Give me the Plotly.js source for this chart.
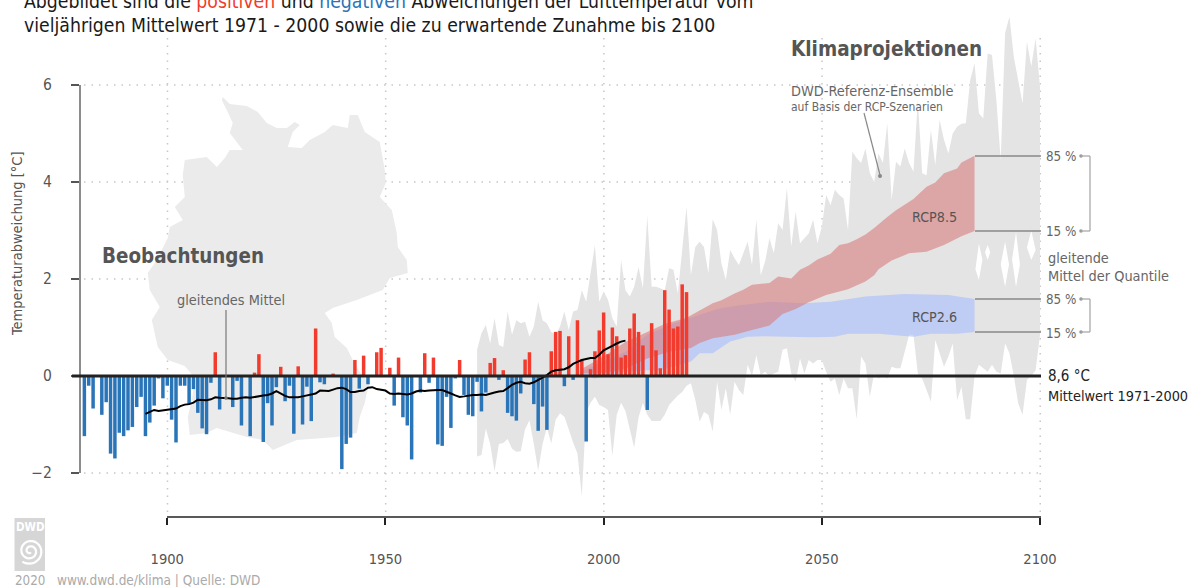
<!DOCTYPE html>
<html><head><meta charset="utf-8">
<script src="https://cdn.plot.ly/plotly-3.0.1.min.js"></script>
<style>html,body{margin:0;padding:0;background:#fff}</style>
</head><body><div id="chart" style="width:1196px;height:587px"></div>
<script>
// Observed anomalies 1881-2019 (°C vs. 1971-2000)
const barStartYear = 1881;
const anomalies = [
-1.24,-.2,-.67,0,-.8,-.54,-1.6,-1.7,-1.17,-1.24,-1.12,-1.05,-.64,-.43,-1.24,-.96,-.61,-.05,-.46,-.2,
-.9,-1.37,-.2,-.2,-.58,-.27,-.76,-1.08,-1.2,-.14,.49,-.69,-.01,0,-.64,-.1,-1.02,0,-1.24,.07,
.45,-1.36,-.56,-1.02,-.23,.19,-.52,-.2,-1.19,.2,-1.0,-.22,-.93,.98,-.13,-.17,0,.05,0,-1.92,
-1.4,-1.27,.33,-.26,.42,-.17,0,.49,.58,0,.17,-.61,.38,-.85,-1.02,-1.72,0,-.34,.47,-.14,
.38,-1.41,-1.44,-.43,-1.07,-.05,.33,-.39,-.8,-.83,-.12,-.73,-.34,.27,.37,-.08,.12,-.76,-.83,-.92,
-.36,.34,.49,-.58,-1.13,-.63,-1.11,.51,.91,.93,-.21,.82,-.08,1.15,.34,-1.35,.14,.51,.94,1.31,
.45,1.0,.82,.38,.43,.98,1.29,.91,.63,-.7,1.09,.53,.16,1.77,1.37,.98,1.02,1.89,1.73];

// Moving mean 1895-2005
const meanStartYear = 1895;
const movingMean = [
-.78,-.74,-.70,-.72,-.71,-.69,-.68,-.67,-.62,-.59,-.58,-.55,-.49,-.5,-.5,-.48,-.44,-.45,-.45,-.46,
-.47,-.47,-.45,-.44,-.45,-.43,-.41,-.4,-.39,-.36,-.31,-.36,-.41,-.44,-.44,-.44,-.42,-.4,-.38,-.36,
-.3,-.3,-.31,-.28,-.25,-.24,-.27,-.33,-.33,-.31,-.3,-.24,-.23,-.27,-.28,-.3,-.36,-.37,-.36,-.37,
-.38,-.36,-.32,-.3,-.31,-.3,-.29,-.29,-.29,-.32,-.36,-.4,-.43,-.42,-.4,-.39,-.39,-.38,-.39,-.36,
-.34,-.32,-.31,-.25,-.18,-.14,-.12,-.15,-.16,-.13,-.08,-.02,.02,.09,.12,.13,.14,.18,.25,.29,
.33,.35,.37,.37,.44,.53,.57,.62,.67,.71,.73];

// Ensemble envelope 1971-2100
const ensembleStartYear = 1971;
const ensembleUpper = [
.54,.88,1.05,.67,1.19,.64,.6,1.33,.85,1.15,1.09,1.12,.81,1.02,1.53,1.15,1.09,.91,.85,1.02,
1.33,.95,1.33,1.36,1.77,1.53,2.12,2.7,1.53,1.74,1.57,1.19,1.02,2.39,1.77,1.64,1.84,2.25,1.81,3.3,
1.84,1.84,1.81,1.77,2.22,2.19,1.7,2.6,3.49,2.08,2.66,2.77,2.66,2.12,3.23,3.01,2.32,1.98,2.6,2.43,
2.29,2.53,2.77,2.29,3.22,2.08,2.36,2.84,2.53,3.15,3.01,3.87,2.67,3.39,2.74,2.84,2.94,3.22,2.74,3.08,
3.73,3.52,3.84,3.73,3.66,3.01,4.63,4.49,4.39,4.69,4.18,4.0,4.59,4.39,5.21,3.63,4.42,4.32,4.69,4.39,
4.21,5.69,4.18,4.14,5.07,4.35,5.28,4.87,4.59,5.0,5.14,5.2,5.21,6.1,6.45,5.42,5.31,6.65,6.62,5.69,
4.45,7.07,7.41,6.58,6.1,5.62,6.89,6.38,6.96,5.96];
const ensembleLower = [
-1.66,-1.63,-1.08,-1.4,-1.97,-1.4,-1.38,-1.3,-1.5,-1.56,-1.55,-1.1,-.91,-1.4,-1.95,-1.4,-1.06,-1.39,-.9,-.77,
-.84,-1.1,-1.37,-1.6,-2.48,-.75,-.55,-.43,-.6,-.64,-.7,-1.65,-.8,-.55,-.72,-1.1,-1.48,-.85,-.55,-.8,
-.93,-.93,-.93,-.8,-.6,-.5,-.4,-.33,-.2,-.15,-.49,-.94,-.74,-.8,-1.15,-.12,-.7,-.25,-.8,-.12,
-.29,-.39,.23,0,.43,.02,.09,0,.05,.09,.54,.57,.05,-.12,.36,.05,.33,.26,.33,.33,
.09,-.12,-.05,-.39,-.05,-.25,-.25,-.89,.4,.26,-.43,.05,-.05,0,-.05,.19,.16,.16,.5,.85,
.85,.05,-.05,-.29,-.53,.74,.47,.19,.4,.67,-.5,-.22,-.89,-.89,0,.23,.16,.09,.23,.09,
.05,.67,.47,0,-.56,-.8,-.08,0,.12,.85];

// Gaps between the two scenario envelopes after 2085 (left, middle, right year of each wedge)
const gapYears  = [2085.2,2086,2086.8,2087.4,2088,2088.6,2091,2092,2092.9,2093.6,2094.5,2095.4,2097,2098,2099];
const gapTop    = [2.2,2.73,2.4,2.55,2.7,2.55,2.3,2.77,2.3,2.4,2.97,2.3,2.65,3.0,2.6];
const gapBottom = [2.2,1.98,2.4,2.55,2.39,2.55,2.3,1.84,2.3,2.4,1.84,2.3,2.65,2.39,2.6];

// Quantile bands
const rcp85UpperYears = [1995,2000,2005,2010,2014,2019,2022,2025,2027,2030,2032,2034,2038,2040,2043,2045,2047,2049,2052,2054,2056,2058,2060,2062,2065,2067,2071,2074,2076,2078,2081,2082,2085];
const rcp85Upper      = [.15,.4,.7,.91,1.07,1.2,1.35,1.5,1.56,1.7,1.78,1.88,1.92,2.05,2.01,2.19,2.28,2.4,2.52,2.7,2.74,2.82,2.92,3.05,3.28,3.42,3.65,3.9,3.99,4.18,4.28,4.4,4.54];
const rcp85LowerYears = [1995,2000,2005,2010,2015,2020,2022,2025,2030,2034,2038,2041,2044,2047,2051,2056,2060,2062,2063,2066,2070,2074,2078,2082,2085];
const rcp85Lower      = [.05,.06,.15,.36,.5,.58,.68,.78,.85,.95,1.04,1.28,1.38,1.52,1.67,1.79,1.95,2.08,2.2,2.38,2.53,2.56,2.7,2.88,2.99];
const rcp26UpperYears = [1995,2000,2005,2010,2015,2020,2026,2031,2038,2046,2052,2060,2069,2079,2085];
const rcp26Upper      = [.1,.3,.5,.85,1.05,1.2,1.38,1.46,1.53,1.5,1.53,1.64,1.69,1.67,1.59];
const rcp26LowerYears = [1995,1998,2002,2005,2010,2013,2020,2022,2025,2029,2033,2037,2042,2048,2053,2056,2063,2071,2075,2081,2085];
const rcp26Lower      = [.02,-.05,.05,.1,.12,.12,.3,.47,.47,.71,.81,.82,.81,.8,.81,.87,.87,.81,.87,.87,.91];

// Picture position of the silhouette of Germany behind the chart
const germanyPxX = [223,230,247,258,267,277,287,295,300,293,288,302,310,325,333,348,350,358,365,380,385,386,380,392,397,398,407,408,390,383,357,333,325,332,335,347,353,360,370,367,365,360,357,337,297,273,263,247,217,207,190,188,192,195,185,168,158,152,160,150,148,157,168,170,183,175,185,183,185,207,217,225,230,243,230,233,227,222];
const germanyPxY = [97,104,106,112,123,128,128,122,125,132,147,148,140,132,125,128,115,115,132,142,170,183,197,210,233,247,260,273,278,290,300,308,313,323,337,348,360,372,383,393,403,417,433,437,440,450,440,437,428,433,435,417,400,378,366,360,347,320,307,290,273,260,238,227,220,207,197,175,160,157,167,158,150,150,133,123,110,100];

const xTicks = [1900,1950,2000,2050,2100];
const yTicks = [-2,0,2,4,6];
const grey='#555', grey2='#666';
const FONT='"DejaVu Sans Condensed","DejaVu Sans"';

// Axis geometry: 1880..2100 over px 80..1040, 1 °C = 48.5 px, zero at py 376
const toYear = p => 1900+(p-167.5)/4.3636;
const toTemp = p => (376-p)/48.5;
const paperX = p => (p-80)/960;
const paperY = p => 1-p/517;
const seq = (s,n)=>Array.from({length:n},(_,i)=>s+i);

const barYears = seq(barStartYear, anomalies.length);
const ensYears = seq(ensembleStartYear, ensembleUpper.length);
const band = (xu,yu,xl,yl)=>({x:xu.concat(xl.slice().reverse()), y:yu.concat(yl.slice().reverse())});
const b85 = band(rcp85UpperYears,rcp85Upper,rcp85LowerYears,rcp85Lower);
const b26 = band(rcp26UpperYears,rcp26Upper,rcp26LowerYears,rcp26Lower);
const ens = band(ensYears,ensembleUpper,ensYears,ensembleLower);
const gapPolyX=[], gapPolyY=[];
for(let i=0;i<gapYears.length;i+=3){
  gapPolyX.push(gapYears[i],gapYears[i+1],gapYears[i+2],gapYears[i+1],null);
  gapPolyY.push(gapTop[i],gapTop[i+1],gapTop[i+2],gapBottom[i+1],null);
}

const traces = [
 {type:'scatter',mode:'none',x:germanyPxX.map(toYear),y:germanyPxY.map(toTemp),fill:'toself',fillcolor:'#ebebeb',hoverinfo:'skip'},
 {type:'scatter',mode:'none',x:ens.x,y:ens.y,fill:'toself',fillcolor:'#e4e4e4',hoverinfo:'skip'},
 {type:'scatter',mode:'none',x:gapPolyX,y:gapPolyY,fill:'toself',fillcolor:'#ffffff',hoverinfo:'skip'},
 {type:'scatter',mode:'none',x:b26.x,y:b26.y,fill:'toself',fillcolor:'rgba(166,188,253,.6)',hoverinfo:'skip'},
 {type:'scatter',mode:'none',x:b85.x,y:b85.y,fill:'toself',fillcolor:'rgba(216,119,119,.57)',hoverinfo:'skip'},
 {type:'bar',xaxis:'x2',yaxis:'y2',x:barYears,y:anomalies,width:.8,marker:{color:anomalies.map(v=>v>=0?'#f23b2c':'#2a74b8'),line:{width:0}},hoverinfo:'x+y'},
 {type:'scatter',xaxis:'x2',yaxis:'y2',mode:'lines',x:seq(meanStartYear,movingMean.length),y:movingMean,line:{color:'#000',width:2},hoverinfo:'skip'}
];

const dots='1.5px,6px';
const shapes=[];
const line=(x0,y0,x1,y1,color,width,layer,dash)=>shapes.push({type:'line',xref:'paper',yref:'paper',x0:paperX(x0),y0:paperY(y0),x1:paperX(x1),y1:paperY(y1),layer:layer||'above',line:{color,width,dash:dash||'solid'}});
const dot=(x,y,r,color)=>shapes.push({type:'circle',xref:'paper',yref:'paper',x0:paperX(x-r),x1:paperX(x+r),y0:paperY(y-r),y1:paperY(y+r),fillcolor:color,line:{width:0},layer:'above'});
// Dotted grid
[6,4,2,-2].forEach(v=>{const p=376-v*48.5; line(84,p,1041,p,'#c8c8c8',1.5,'below',dots);});
xTicks.forEach(t=>{const p=167.5+(t-1900)*4.3636; line(p,38,p,517,'#c8c8c8',1.5,'below',dots);});
// Axes
line(80,85,80,473,'#666',1.5);
line(167,517,1041,517,'#222',1.5);
line(72,376,1041,376,'#222',3.2);
// Callouts
line(226,310,226,397,'#777',1.2); dot(226,398,1.8,'#777');
line(864,113,880,175,'#888',1.2); dot(880,176,2,'#888');
[156,231,299,332].forEach(p=>{line(975,p,1041,p,'#888',1.5); dot(1081,p,1.8,'#999');});
[[156,231],[299,332]].forEach(([a,b])=>{line(1081,a,1090,a,'#aaa',1.3);line(1090,a,1090,b,'#aaa',1.3);line(1081,b,1090,b,'#aaa',1.3);});
// Logo
shapes.push({type:'rect',xref:'paper',yref:'paper',x0:paperX(14.5),x1:paperX(45),y0:paperY(518),y1:paperY(571),fillcolor:'#d6d6d6',line:{width:0},layer:'above'});
let sp='';
for(let a=0;a<=4.4*Math.PI;a+=.25){const r=1.5+a*.85;const X=30+r*Math.cos(a+1),Y=551+r*Math.sin(a+1);sp+=(sp?'L':'M')+paperX(X).toFixed(5)+','+paperY(Y).toFixed(5)+' ';}
shapes.push({type:'path',xref:'paper',yref:'paper',path:sp,line:{color:'#fff',width:2.2},layer:'above'});

const note=(text,px,py,size,color,o)=>Object.assign({text,x:paperX(px),y:paperY(py),xref:'paper',yref:'paper',showarrow:false,xanchor:'left',yanchor:'middle',borderpad:0,font:{family:FONT,size,color}},o||{});
const annotations=[
 note('Abgebildet sind die <span style="color:#f23b2c">positiven</span> und <span style="color:#2a74b8">negativen</span> Abweichungen der Lufttemperatur vom',23,1.5,19.25,'#1a1a1a'),
 note('vieljährigen Mittelwert 1971 - 2000 sowie die zu erwartende Zunahme bis 2100',23,25.5,19.25,'#1a1a1a'),
 note('<b>Beobachtungen</b>',101,256,20.4,'#555'),
 note('<b>Klimaprojektionen</b>',790,49,20.5,'#555'),
 note('gleitendes Mittel',176,300,14.4,grey2),
 note('DWD-Referenz-Ensemble',790,91,14.4,grey2),
 note('auf Basis der RCP-Szenarien',790,107,12,grey2),
 note('RCP8.5',911,217,14.2,grey),
 note('RCP2.6',911,317,14.2,grey),
 note('85 %',1045,156,13.3,grey2),
 note('15 %',1045,231,13.3,grey2),
 note('gleitende',1047,258,14.4,grey2),
 note('Mittel der Quantile',1047,276,14.4,grey2),
 note('85 %',1045,299,13.3,grey2),
 note('15 %',1045,333,13.3,grey2),
 note('8,6 °C',1047,376,15,'#222'),
 note('Mittelwert 1971-2000',1047,396,14.4,'#222'),
 note('Temperaturabweichung [°C]',17,244,14.5,grey,{textangle:-90,xanchor:'center'}),
 note('<b>DWD</b>',30,527,11.5,'#fff',{xanchor:'center'}),
 note('2020',14,580,13.3,'#aaa'),
 note('www.dwd.de/klima | Quelle: DWD',56,580,13.5,'#aaa')
];

const xRange=[1880,2100], yRange=[-2.907,7.753];
const layout={
 width:1196,height:587,autosize:false,showlegend:false,paper_bgcolor:'#fff',plot_bgcolor:'rgba(0,0,0,0)',
 margin:{l:80,r:156,t:0,b:70,pad:0},barmode:'overlay',
 font:{family:FONT,color:grey,size:14},
 xaxis:{range:xRange,tickmode:'array',tickvals:xTicks,ticktext:xTicks.map(String),ticks:'outside',ticklen:7,tickwidth:1.5,tickcolor:'#222',showgrid:false,zeroline:false,showline:false,ticklabelstandoff:21,tickfont:{family:FONT,size:14.6,color:grey}},
 yaxis:{range:yRange,tickmode:'array',tickvals:yTicks,ticks:'outside',ticklen:8,tickwidth:1.5,tickcolor:'#555',showgrid:false,zeroline:false,showline:false,ticklabelstandoff:16,tickfont:{family:FONT,size:15.5,color:grey}},
 xaxis2:{range:xRange,overlaying:'x',visible:false,anchor:'y2'},
 yaxis2:{range:yRange,overlaying:'y',visible:false,anchor:'x2'},
 shapes,annotations
};
Plotly.newPlot('chart',traces,layout,{displayModeBar:false,responsive:false});
</script></body></html>
